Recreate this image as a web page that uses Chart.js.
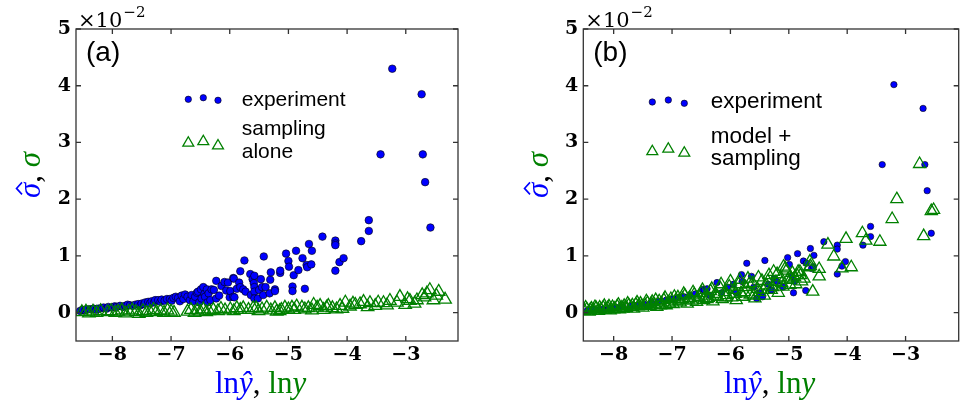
<!DOCTYPE html>
<html><head><meta charset="utf-8">
<script src="https://cdn.jsdelivr.net/npm/chart.js@4.4.0/dist/chart.umd.min.js"></script>
<style>
html,body{margin:0;padding:0;background:#fff;}
#wrap{position:relative;width:967px;height:404px;overflow:hidden;background:#fff;}
#ca{position:absolute;left:0;top:0;}
#cb{position:absolute;left:490px;top:0;}
</style></head><body>
<div id="wrap"><canvas id="ca" width="490" height="404"></canvas><canvas id="cb" width="477" height="404"></canvas></div>
<script>
// ---- tick labels / axes ----
const xTicks = [-8, -7, -6, -5, -4, -3];
const yTicks = [0, 1, 2, 3, 4, 5];
const yScaleLabel = ['\u00d710', '\u22122'];
const panelLabels = ['(a)', '(b)'];
const legendA = ['experiment', ['sampling', 'alone']];
const legendB = ['experiment', ['model +', 'sampling']];

// ---- panel (a): experiment (sigma-hat, x10^-2) ----
const aExpX = [-8.55,-8.51,-8.46,-8.44,-8.38,-8.32,-8.27,-8.24,-8.18,-8.15,-8.10,-8.07,-8.01,-7.96,-7.93,-7.87,-7.82,-7.78,-7.74,-7.70,-7.65,-7.61,-7.56,-7.52,-7.50,-7.46,-7.44,-7.39,-7.36,-7.33,-7.29,-7.27,-7.22,-7.18,-7.16,-7.11,-7.07,-7.02,-6.99,-6.96,-6.92,-6.88,-6.85,-6.82,-6.79,-6.76,-6.72,-6.68,-6.65,-6.62,-6.59,-6.56,-6.54,-6.52,-6.49,-6.48,-6.45,-6.43,-6.42,-6.39,-6.38,-6.36,-6.33,-6.31,-6.27,-6.23,-6.23,-6.18,-6.14,-6.09,-6.06,-6.03,-6.00,-5.99,-5.94,-5.94,-5.92,-5.93,-5.88,-5.84,-5.82,-5.82,-5.77,-5.75,-5.73,-5.65,-5.64,-5.61,-5.59,-5.58,-5.58,-5.58,-5.58,-5.52,-5.50,-5.47,-5.45,-5.43,-5.42,-5.39,-5.32,-5.31,-5.30,-5.23,-5.23,-5.14,-5.14,-5.04,-5.00,-4.99,-4.93,-4.93,-4.91,-4.87,-4.83,-4.76,-4.72,-4.69,-4.68,-4.65,-4.61,-4.60,-4.42,-4.20,-4.20,-4.20,-4.20,-4.13,-4.06,-3.76,-3.63,-3.63,-3.43,-3.23,-2.73,-2.71,-2.67,-2.58];
const aExpY = [0.03,0.05,0.04,0.06,0.06,0.07,0.05,0.07,0.08,0.09,0.07,0.10,0.09,0.11,0.10,0.12,0.10,0.12,0.14,0.13,0.12,0.14,0.15,0.13,0.16,0.15,0.18,0.19,0.16,0.20,0.18,0.22,0.22,0.19,0.23,0.21,0.24,0.24,0.21,0.26,0.28,0.26,0.20,0.30,0.24,0.32,0.28,0.22,0.31,0.20,0.28,0.35,0.37,0.18,0.41,0.25,0.45,0.33,0.28,0.41,0.18,0.34,0.22,0.41,0.40,0.56,0.25,0.30,0.47,0.54,0.39,0.53,0.27,0.38,0.61,0.28,0.27,0.60,0.42,0.53,0.73,0.45,0.41,0.92,0.37,0.68,0.31,0.59,0.52,0.65,0.45,0.37,0.25,0.25,0.40,0.59,0.45,0.31,0.99,0.45,0.34,0.58,0.71,0.41,0.38,0.70,0.74,1.04,0.91,0.81,0.46,0.38,0.66,1.09,0.75,0.96,0.42,0.84,0.80,1.21,0.85,1.09,1.34,1.27,1.22,1.19,0.74,0.89,0.96,1.26,1.63,1.44,2.79,4.30,3.85,2.79,2.30,1.50];

// ---- panel (a): sampling alone (sigma, x10^-2) ----
const aSampX = [-8.52,-8.45,-8.40,-8.33,-8.27,-8.20,-8.08,-8.02,-7.95,-7.90,-7.84,-7.78,-7.72,-7.66,-7.60,-7.55,-7.48,-7.42,-7.36,-7.30,-7.25,-7.18,-7.12,-7.06,-7.00,-6.95,-6.72,-6.66,-6.60,-6.55,-6.50,-6.45,-6.40,-6.35,-6.28,-6.20,-6.15,-6.08,-5.99,-5.93,-5.88,-5.82,-5.77,-5.68,-5.60,-5.55,-5.51,-5.45,-5.37,-5.30,-5.23,-5.20,-5.15,-5.12,-5.06,-5.00,-4.94,-4.90,-4.86,-4.77,-4.72,-4.66,-4.60,-4.57,-4.51,-4.46,-4.40,-4.35,-4.32,-4.25,-4.18,-4.12,-4.08,-4.03,-3.95,-3.90,-3.86,-3.78,-3.72,-3.65,-3.61,-3.52,-3.47,-3.38,-3.32,-3.27,-3.15,-3.10,-3.01,-2.97,-2.93,-2.85,-2.81,-2.72,-2.68,-2.64,-2.59,-2.53,-2.48,-2.44,-2.33];
const aSampY = [0.01,0.02,-0.01,0.02,0.00,0.03,0.01,0.03,0.00,0.02,0.04,-0.01,0.02,0.04,0.01,-0.02,0.03,0.00,0.02,0.05,0.01,0.03,0.00,0.04,0.02,0.00,0.02,0.05,0.00,0.04,0.02,0.06,0.01,0.03,0.05,0.03,0.07,0.04,0.06,0.03,0.08,0.05,0.08,0.05,0.08,0.08,0.03,0.06,0.09,0.04,0.08,0.02,0.03,0.05,0.09,0.06,0.09,0.05,0.11,0.09,0.06,0.08,0.04,0.14,0.09,0.12,0.05,0.09,0.12,0.08,0.06,0.12,0.07,0.18,0.11,0.16,0.14,0.15,0.19,0.10,0.17,0.12,0.18,0.17,0.13,0.21,0.18,0.28,0.14,0.24,0.21,0.16,0.22,0.31,0.27,0.34,0.40,0.22,0.30,0.37,0.23];

// ---- panel (b): experiment ----
const bExpX = [-8.45,-8.35,-8.25,-8.18,-8.08,-7.95,-7.85,-7.72,-7.60,-7.48,-7.35,-7.22,-7.10,-7.00,-6.90,-6.80,-6.70,-6.60,-6.48,-6.45,-6.40,-6.35,-6.23,-6.15,-6.05,-5.95,-5.90,-5.81,-5.80,-5.72,-5.64,-5.60,-5.55,-5.50,-5.45,-5.41,-5.35,-5.30,-5.25,-5.20,-5.10,-5.02,-4.99,-4.95,-4.92,-4.90,-4.85,-4.75,-4.71,-4.70,-4.63,-4.61,-4.58,-4.57,-4.40,-4.17,-4.17,-4.17,-4.09,-4.03,-3.73,-3.60,-3.60,-3.40,-3.20,-2.70,-2.67,-2.63,-2.56];
const bExpY = [0.04,0.06,0.05,0.06,0.08,0.09,0.10,0.12,0.13,0.15,0.18,0.20,0.22,0.24,0.26,0.28,0.30,0.33,0.41,0.40,0.42,0.30,0.53,0.35,0.45,0.50,0.35,0.67,0.55,0.87,0.64,0.45,0.25,0.35,0.28,0.92,0.50,0.40,0.60,0.55,0.45,0.97,0.85,0.65,0.35,0.55,1.04,0.91,0.39,0.87,1.13,0.78,0.81,1.01,1.25,1.19,1.12,0.68,0.82,0.90,1.19,1.52,1.34,2.61,4.02,3.60,2.61,2.15,1.40];

// ---- panel (b): model + sampling ----
const bModX = [-8.50,-8.46,-8.42,-8.38,-8.34,-8.30,-8.26,-8.22,-8.18,-8.14,-8.10,-8.06,-8.02,-7.98,-7.94,-7.90,-7.86,-7.82,-7.78,-7.74,-7.70,-7.66,-7.62,-7.58,-7.54,-7.50,-7.46,-7.42,-7.38,-7.34,-7.30,-7.26,-7.22,-7.18,-7.14,-7.10,-7.06,-7.02,-6.98,-6.94,-6.90,-6.86,-6.82,-6.78,-6.74,-6.70,-6.66,-6.62,-6.58,-6.54,-6.50,-6.46,-6.42,-6.38,-6.34,-6.30,-6.26,-6.22,-6.18,-6.14,-6.10,-6.06,-6.02,-5.98,-5.94,-5.90,-5.86,-5.82,-5.78,-5.74,-5.70,-5.66,-5.62,-5.58,-5.54,-5.50,-5.46,-5.42,-5.38,-5.34,-5.30,-5.26,-5.22,-5.18,-5.14,-5.10,-5.09,-5.06,-5.02,-4.98,-4.94,-4.90,-4.86,-4.84,-4.81,-4.78,-4.74,-4.65,-4.64,-4.63,-4.59,-4.48,-4.48,-4.33,-4.23,-4.09,-4.02,-3.93,-3.74,-3.68,-3.44,-3.23,-3.15,-2.76,-2.69,-2.56,-2.52,
  -8.48,-8.40,-8.32,-8.24,-8.16,-8.08,-8.00,-7.92,-7.84,-7.76,-7.68,-7.60,-7.52,-7.44,-7.36,-7.28,-7.20,-7.12,-7.04,-6.96,-6.88,-6.80,-6.72,-6.64,-6.56,-6.48,-6.40,-6.32,-6.24,-6.16,-6.08,-6.00,-5.92,-5.84,-5.76,-5.68,-5.60,-5.52,-5.44,-5.36,-5.28,-5.20,-5.12,-5.04,-4.96,-4.88,-4.80];
const bModY = [0.03,0.06,0.02,0.07,0.04,0.08,0.03,0.06,0.09,0.05,0.08,0.04,0.10,0.07,0.11,0.06,0.09,0.12,0.08,0.13,0.10,0.07,0.14,0.11,0.16,0.09,0.13,0.17,0.12,0.19,0.14,0.10,0.20,0.16,0.22,0.13,0.18,0.24,0.15,0.21,0.27,0.18,0.24,0.30,0.16,0.26,0.21,0.32,0.19,0.28,0.35,0.22,0.30,0.26,0.38,0.20,0.33,0.28,0.44,0.24,0.36,0.31,0.46,0.27,0.40,0.22,0.50,0.34,0.28,0.45,0.60,0.32,0.52,0.25,0.42,0.36,0.56,0.30,0.48,0.66,0.40,0.72,0.54,0.35,0.62,0.46,0.81,0.78,0.58,0.49,0.70,0.62,0.66,0.72,0.72,0.55,0.60,0.80,0.90,0.82,0.37,0.77,0.64,1.20,0.99,0.78,1.30,0.80,1.40,1.27,1.25,1.65,2.00,2.62,1.35,1.79,1.81,
  0.09,0.05,0.10,0.09,0.12,0.11,0.06,0.14,0.07,0.16,0.13,0.18,0.12,0.20,0.15,0.22,0.13,0.26,0.16,0.28,0.21,0.33,0.23,0.36,0.25,0.40,0.24,0.42,0.30,0.50,0.27,0.55,0.33,0.58,0.36,0.50,0.30,0.62,0.40,0.55,0.45,0.68,0.52,0.74,0.60,0.50,0.66];

const BLUE = '#0000ff', GREEN = '#008000';
const zip = (xs, ys) => xs.map((v, i) => ({x: v, y: ys[i]}));
const fmt = v => (v < 0 ? '\u2212' + Math.abs(v) : String(v));

function drawRich(ctx, parts, x, y) {
  let cx = x; const pos = [];
  parts.forEach(p => { ctx.font = p.font; ctx.fillStyle = p.color; ctx.fillText(p.t, cx, y);
    const w = ctx.measureText(p.t).width; pos.push([cx, w]); cx += w; });
  return pos;
}
function richWidth(ctx, parts) {
  let w = 0; parts.forEach(p => { ctx.font = p.font; w += ctx.measureText(p.t).width; }); return w;
}
function tri(ctx, x, y, r) {
  ctx.beginPath();
  ctx.moveTo(x, y - r);
  ctx.lineTo(x + r * Math.sin(2 * Math.PI / 3), y + r / 2);
  ctx.lineTo(x - r * Math.sin(2 * Math.PI / 3), y + r / 2);
  ctx.closePath();
  ctx.stroke();
}

const SER = '"Liberation Serif", serif';
const TF = '31px ' + SER, TI = 'italic 31px ' + SER;

function decorPlugin(cfg) {
  return {
    id: 'decor',
    afterDraw(chart) {
      const {ctx, chartArea: a, scales: {x, y}} = chart;
      ctx.save();
      // frame + inward ticks
      ctx.strokeStyle = '#333'; ctx.lineWidth = 1.3;
      ctx.strokeRect(a.left, a.top, a.right - a.left, a.bottom - a.top);
      ctx.beginPath();
      xTicks.forEach(v => { const px = x.getPixelForValue(v);
        ctx.moveTo(px, a.bottom); ctx.lineTo(px, a.bottom - 5);
        ctx.moveTo(px, a.top); ctx.lineTo(px, a.top + 5); });
      yTicks.forEach(v => { const py = y.getPixelForValue(v);
        ctx.moveTo(a.left, py); ctx.lineTo(a.left + 5, py);
        ctx.moveTo(a.right, py); ctx.lineTo(a.right - 5, py); });
      ctx.stroke();
      // x10^-2
      ctx.fillStyle = '#000'; ctx.textBaseline = 'alphabetic'; ctx.textAlign = 'left';
      ctx.font = '21px "DejaVu Serif", serif';
      ctx.fillText(yScaleLabel[0], a.left + 2, 27);
      const w0 = ctx.measureText(yScaleLabel[0]).width;
      ctx.font = '15px "DejaVu Serif", serif';
      ctx.fillText(yScaleLabel[1], a.left + 2 + w0 + 1, 17);
      // panel label
      ctx.font = '28px "Liberation Sans", Arial, sans-serif';
      ctx.fillText(cfg.panel, a.left + 10, 61);
      // legend
      const L = cfg.leg;
      ctx.fillStyle = BLUE; ctx.strokeStyle = '#000'; ctx.lineWidth = 0.6;
      L.dots.forEach(d => { ctx.beginPath(); ctx.arc(d[0], d[1], 3.2, 0, Math.PI * 2); ctx.fill(); ctx.stroke(); });
      ctx.strokeStyle = GREEN; ctx.lineWidth = 1.3;
      L.tris.forEach(d => tri(ctx, d[0], d[1], 6.3));
      ctx.fillStyle = '#000'; ctx.font = L.font + 'px "Liberation Sans", Arial, sans-serif';
      ctx.fillText(L.labels[0], L.tx, L.b0);
      L.labels[1].forEach((t, i) => ctx.fillText(t, L.tx, L.b1[i]));
      // x title
      const xp = [
        {t: 'ln', font: TF, color: BLUE}, {t: '\u0177', font: TI, color: BLUE},
        {t: ', ', font: TF, color: '#000'},
        {t: 'ln', font: TF, color: GREEN}, {t: 'y', font: TI, color: GREEN}];
      drawRich(ctx, xp, cfg.xt, 393);
      // y title (rotated), hat drawn as a chevron above the first sigma
      const yp = [
        {t: '\u03c3', font: TI, color: BLUE},
        {t: ', ', font: TF, color: '#000'},
        {t: '\u03c3', font: TI, color: GREEN}];
      ctx.translate(cfg.yt, 175);
      ctx.rotate(-Math.PI / 2);
      const pos = drawRich(ctx, yp, -richWidth(ctx, yp) / 2, 0);
      const hc = pos[0][0] + pos[0][1] / 2 + 2;
      ctx.strokeStyle = BLUE; ctx.lineWidth = 1.6;
      ctx.beginPath();
      ctx.moveTo(hc - 6, -18); ctx.lineTo(hc, -23.5); ctx.lineTo(hc + 6, -18);
      ctx.stroke();
      ctx.restore();
    }
  };
}

function makeChart(id, expX, expY, smX, smY, xmin, xmax, yW, padR, dotR, triR, cfg) {
  return new Chart(document.getElementById(id), {
    type: 'scatter',
    data: {
      datasets: [
        {data: zip(expX, expY), pointStyle: 'circle', pointRadius: dotR, pointBackgroundColor: BLUE,
         pointBorderColor: '#000', pointBorderWidth: 0.6, order: 2},
        {data: zip(smX, smY), pointStyle: 'triangle', pointRadius: triR, pointBackgroundColor: 'rgba(0,0,0,0)',
         pointBorderColor: GREEN, pointBorderWidth: 1.3, order: 1}
      ]
    },
    options: {
      responsive: false, animation: false, events: [],
      layout: {padding: {left: 0, right: padR, top: 29, bottom: 0}},
      plugins: {legend: {display: false}, tooltip: {enabled: false}},
      scales: {
        x: {type: 'linear', min: xmin, max: xmax,
            afterBuildTicks: s => { s.ticks = xTicks.map(v => ({value: v})); },
            afterFit: s => { s.height = 63; },
            grid: {display: false, drawTicks: false}, border: {display: false},
            ticks: {font: {family: '"DejaVu Serif", serif', weight: 'bold', size: 19}, color: '#000', padding: 3,
                    callback: fmt, maxRotation: 0, autoSkip: false}},
        y: {type: 'linear', min: -0.5, max: 5,
            afterBuildTicks: s => { s.ticks = yTicks.map(v => ({value: v})); },
            afterFit: s => { s.width = yW; },
            grid: {display: false, drawTicks: false}, border: {display: false},
            ticks: {font: {family: '"DejaVu Serif", serif', weight: 'bold', size: 19}, color: '#000', padding: 5,
                    callback: fmt, autoSkip: false}}
      }
    },
    plugins: [decorPlugin(cfg)]
  });
}

makeChart('ca', aExpX, aExpY, aSampX, aSampY, -8.62, -2.11, 76, 32, 3.8, 7.2, {
  panel: panelLabels[0], xt: 215, yt: 40,
  leg: {dots: [[188.3, 99.3], [203.3, 97.7], [218, 100.3]], tris: [[188.3, 143], [203.3, 141.5], [218, 145.8]],
        font: 21, tx: 241.7, b0: 105.5, labels: legendA, b1: [135, 157.5]}
});
const OB = 490;
makeChart('cb', bExpX, bExpY, bModX, bModY, -8.52, -2.09, 93.3, 2, 3.2, 7.0, {
  panel: panelLabels[1], xt: 724 - OB, yt: 548 - OB,
  leg: {dots: [[652.3 - OB, 102], [668.3 - OB, 100], [684.3 - OB, 103.3]], tris: [[652.3 - OB, 151.5], [668.3 - OB, 149], [684.3 - OB, 153]],
        font: 22.5, tx: 710.7 - OB, b0: 108, labels: legendB, b1: [142.5, 165]}
});
</script>
</body></html>
